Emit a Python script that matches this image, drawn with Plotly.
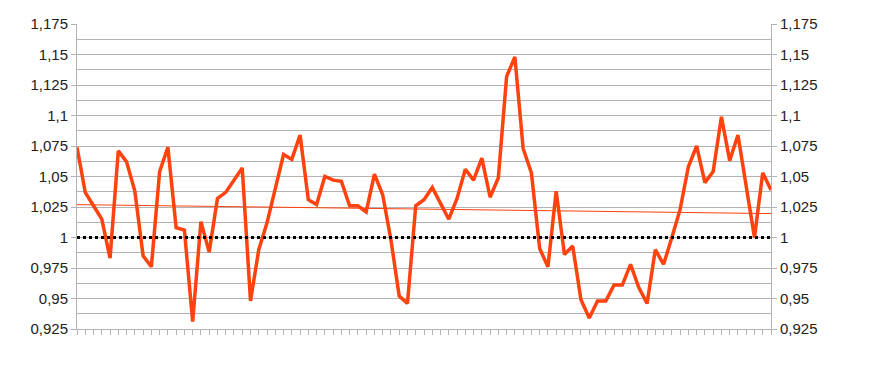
import numpy as np
import plotly.graph_objects as go

# Ratio series (85 periods)
values = [
    1.074, 1.037, 1.026, 1.015, 0.983, 1.071, 1.062, 1.038, 0.985, 0.976,
    1.054, 1.074, 1.008, 1.006, 0.931, 1.013, 0.988, 1.032, 1.037, 1.047,
    1.057, 0.948, 0.990, 1.012, 1.041, 1.068, 1.064, 1.084, 1.031, 1.027,
    1.050, 1.047, 1.046, 1.026, 1.026, 1.021, 1.052, 1.035, 0.998, 0.952,
    0.946, 1.026, 1.031, 1.041, 1.028, 1.015, 1.032, 1.056, 1.047, 1.065,
    1.033, 1.049, 1.132, 1.148, 1.073, 1.053, 0.991, 0.976, 1.038, 0.986,
    0.993, 0.949, 0.934, 0.948, 0.948, 0.961, 0.961, 0.978, 0.959, 0.946,
    0.990, 0.978, 1.000, 1.023, 1.058, 1.075, 1.045, 1.054, 1.099, 1.063,
    1.084, 1.042, 1.000, 1.053, 1.039,
]
categories = list(range(len(values)))
baseline = [1.0] * len(values)

tick_vals = [0.925, 0.95, 0.975, 1.0, 1.025, 1.05, 1.075, 1.1, 1.125, 1.15, 1.175]
tick_text = ["0,925", "0,95", "0,975", "1", "1,025", "1,05", "1,075", "1,1", "1,125", "1,15", "1,175"]

# Linear trend line (least squares)
slope, intercept = np.polyfit(categories, values, 1)
trend = [slope * c + intercept for c in categories]

COLOR = "#ff420e"
GRID = "#b3b3b3"
FONT = "Liberation Sans, Arial, sans-serif"

fig = go.Figure()
fig.add_trace(go.Scatter(x=categories, y=trend, mode="lines",
                         line=dict(color=COLOR, width=1), hoverinfo="skip"))
fig.add_trace(go.Scatter(x=categories, y=values, mode="lines",
                         line=dict(color=COLOR, width=3.5)))
fig.add_trace(go.Scatter(x=categories, y=baseline, mode="lines", yaxis="y2",
                         line=dict(color="black", width=3, dash="dot")))

yaxis_common = dict(
    range=[0.925, 1.175],
    tickvals=tick_vals,
    ticktext=tick_text,
    ticks="outside",
    ticklen=5,
    tickcolor=GRID,
    showline=True,
    linecolor=GRID,
    linewidth=1,
    zeroline=False,
    tickfont=dict(family=FONT, size=15, color="#222222"),
)

fig.update_layout(
    width=870,
    height=370,
    margin=dict(l=77.3, r=99.3, t=24.3, b=40.7),
    paper_bgcolor="white",
    plot_bgcolor="white",
    showlegend=False,
    xaxis=dict(
        range=[0, len(values) - 1],
        tickmode="linear", tick0=0, dtick=1,
        ticks="outside", ticklen=5, tickcolor=GRID,
        showticklabels=False,
        showgrid=False, zeroline=False,
        showline=True, linecolor=GRID, linewidth=1,
    ),
    yaxis=dict(
        **yaxis_common,
        side="left",
        showgrid=True, gridcolor=GRID, gridwidth=1,
        minor=dict(dtick=0.0125, tick0=0.925, showgrid=True, gridcolor=GRID, gridwidth=1),
    ),
    yaxis2=dict(
        **yaxis_common,
        side="right",
        overlaying="y",
        showgrid=False,
    ),
)

fig.write_html("out.html")
